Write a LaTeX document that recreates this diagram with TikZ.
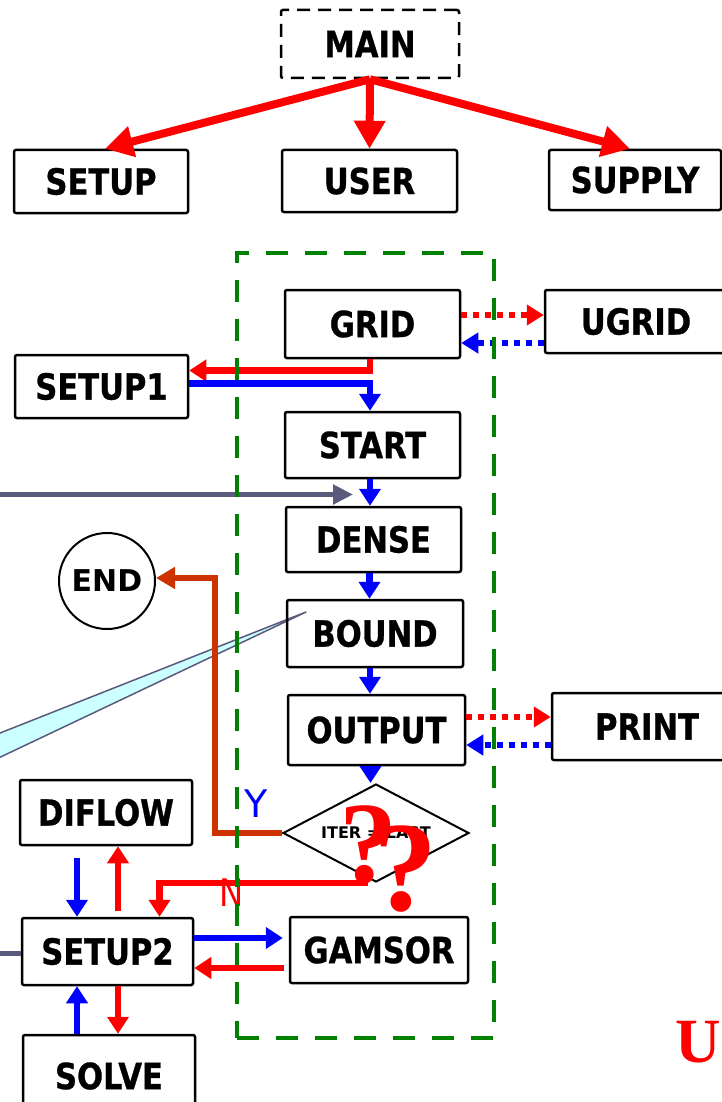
\documentclass[tikz,border=0pt]{standalone}
\usepackage{fontspec}
\usetikzlibrary{arrows.meta,shapes.geometric}
\newfontfamily\boxfontfam{DejaVu Sans}[FakeStretch=0.85,FakeBold=0.8]
\newfontfamily\plainsans{DejaVu Sans}
\newfontfamily\serifb{Liberation Serif}
\definecolor{myred}{RGB}{255,0,0}
\definecolor{myblue}{RGB}{0,0,255}
\definecolor{mygreen}{RGB}{0,128,0}
\definecolor{mybrown}{RGB}{204,51,0}
\definecolor{mygray}{RGB}{90,90,125}
\definecolor{mycyan}{RGB}{204,255,255}
\begin{document}
\begin{tikzpicture}[x=1pt,y=-1pt,
  box/.style={draw, line width=2.5pt, rounded corners=2pt, inner sep=0pt,
    font=\boxfontfam\bfseries\fontsize{36}{40}\selectfont},
  bigred/.style={draw=myred, line width=8pt, -{Triangle[width=30pt,length=28pt]}},
  conn/.style={line width=6.5pt, -{Triangle[width=21pt,length=17pt]}},
  dotconn/.style={line width=6pt, dash pattern=on 6pt off 6pt, -{Triangle[width=20pt,length=17pt]}},
  grayarrow/.style={draw=mygray, line width=5pt, -{Triangle[width=19pt,length=20pt]}},
  brownarrow/.style={draw=mybrown, line width=6pt, line join=miter, -{Triangle[width=21pt,length=19pt]}},
  frame/.style={draw=mygreen, line width=4.5pt, dash pattern=on 22pt off 17pt, inner sep=0pt},
  qmark/.style={text=myred, inner sep=0pt, anchor=base}
]
\useasboundingbox (0,0) rectangle (722,1102);
\clip (0,0) rectangle (722,1102);

% callout wedge
\coordinate (wtip) at (306,612);
\coordinate (wa) at (-10,737);
\coordinate (wb) at (-10,762);
\filldraw[fill=mycyan, draw=mygray, line width=1.5pt, line join=round] (wtip) -- (wa) -- (wb) -- cycle;

% labels Y / N
\node[font=\plainsans\fontsize{38}{40}\selectfont, text=myblue, inner sep=0pt] (ylab) at (256,804) {Y};
\node[font=\plainsans\fontsize{38}{40}\selectfont, text=myred, inner sep=0pt, xscale=0.85] (nlab) at (232,893) {N};

% boxes
\node[box, dash pattern=on 13pt off 8pt, minimum width=178pt, minimum height=68pt] (main) at (370,44) {MAIN};
\node[box, minimum width=174pt, minimum height=63pt] (setup) at (101,181.5) {SETUP};
\node[box, minimum width=175pt, minimum height=62pt] (user) at (369.5,181) {USER};
\node[box, minimum width=172pt, minimum height=60pt] (supply) at (635,180) {SUPPLY};

\node[box, minimum width=175pt, minimum height=68pt] (grid) at (372.5,324) {GRID};
\node[box, minimum width=182pt, minimum height=63pt] (ugrid) at (636,321.5) {UGRID};
\node[box, minimum width=173pt, minimum height=63pt] (setup1) at (101.5,386.5) {SETUP1};
\node[box, minimum width=175pt, minimum height=66pt] (start) at (372.5,445) {START};
\node[box, minimum width=175pt, minimum height=65pt] (dense) at (373.5,539.5) {DENSE};
\node[box, minimum width=176pt, minimum height=67pt] (bound) at (375,633.5) {BOUND};
\node[box, minimum width=177pt, minimum height=70pt] (output) at (376.5,730) {OUTPUT};
\node[box, minimum width=190pt, minimum height=67pt] (print) at (647,726.5) {PRINT};
\node[box, minimum width=172pt, minimum height=65pt] (diflow) at (106,812.5) {DIFLOW};
\node[box, minimum width=171pt, minimum height=67pt] (setup2) at (107.5,951.5) {SETUP2};
\node[box, minimum width=178pt, minimum height=66pt] (gamsor) at (379,950) {GAMSOR};
\node[box, minimum width=172pt, minimum height=82pt] (solve) at (109,1076) {SOLVE};

\node[draw, circle, line width=2pt, minimum size=96pt, inner sep=0pt,
  font=\plainsans\bfseries\fontsize{30}{32}\selectfont] (end) at (107,581) {END};
\node[diamond, draw, line width=2pt, minimum width=186pt, minimum height=98pt, aspect=1.9, inner sep=0pt,
  font=\plainsans\bfseries\fontsize{16}{18}\selectfont] (diam) at (376,833) {ITER = LAST};

% top arrows
\draw[bigred] (main.south) -- ([xshift=4pt]setup.north);
\draw[bigred] (main.south) -- (user.north);
\draw[bigred] (main.south) -- ([xshift=-5pt]supply.north);

% GRID <-> UGRID
\draw[dotconn, myred] ([yshift=9pt]grid.east) -- ([yshift=9pt]grid.east -| ugrid.west);
\draw[dotconn, myblue] ([yshift=-21.5pt]ugrid.west) -- ([yshift=-21.5pt]ugrid.west -| grid.east);

% GRID -> SETUP1 -> START
\draw[conn, myred] ([xshift=-2.5pt]grid.south) |- ([yshift=16pt]setup1.east);
\draw[conn, myblue] ([yshift=3pt]setup1.east) -| ([xshift=-2.5pt]start.north);

% main column
\draw[conn, myblue] ([xshift=-2.5pt]start.south) -- ([xshift=-2.5pt]start.south |- dense.north);
\draw[conn, myblue] ([xshift=-4pt]dense.south) -- ([xshift=-4pt]dense.south |- bound.north);
\draw[conn, myblue] ([xshift=-5pt]bound.south) -- ([xshift=-5pt]bound.south |- output.north);
\draw[conn, myblue] ([xshift=-6pt]output.south) -- ([xshift=-6pt]output.south |- diam.north);

% OUTPUT <-> PRINT
\draw[dotconn, myred] ([yshift=13pt]output.east) -- ([yshift=13pt]output.east -| print.west);
\draw[dotconn, myblue] ([yshift=-18.5pt]print.west) -- ([yshift=-18.5pt]print.west -| output.east);

% gray arrow from the left
\coordinate (gsrc) at (-5,494.5);
\coordinate (gtip) at (353,494.5);
\draw[grayarrow] (gsrc) -- (gtip);

% Y branch to END
\coordinate (bturn) at (215,578);
\draw[brownarrow] (diam.west) -| (bturn) -- ([yshift=3pt]end.east);

% N branch to SETUP2
\draw[conn, myred] ([xshift=-8pt]diam.south) -| ([xshift=52pt]setup2.north);

% SETUP2 cluster
\draw[conn, myblue, shorten <=12pt] ([xshift=-29pt]diflow.south) -- ([xshift=-29pt]diflow.south |- setup2.north);
\draw[conn, myred, shorten <=6pt] ([xshift=10.5pt]setup2.north) -- ([xshift=10.5pt]setup2.north |- diflow.south);
\draw[conn, myblue, shorten >=6pt] ([yshift=13.5pt]setup2.east) -- ([yshift=13.5pt]setup2.east -| gamsor.west);
\draw[conn, myred, shorten <=5pt] ([yshift=-18pt]gamsor.west) -- ([yshift=-18pt]gamsor.west -| setup2.east);
\draw[conn, myred] ([xshift=10.5pt]setup2.south) -- ([xshift=10.5pt]setup2.south |- solve.north);
\draw[conn, myblue] ([xshift=-32pt]solve.north) -- ([xshift=-32pt]solve.north |- setup2.south);

\coordinate (g2src) at (-5,953);
\draw[draw=mygray, line width=5pt] (g2src) -- (g2src -| setup2.west);

% green loop frame
\node[frame, minimum width=257pt, minimum height=785pt] (loop) at (365.5,645.5) {};

% question marks and U
\node[qmark, font=\serifb\bfseries\fontsize{116}{120}\selectfont] (q1) at (368,882) {?};
\node[qmark, font=\serifb\bfseries\fontsize{128}{132}\selectfont] (q2) at (405,910) {?};
\node[qmark, font=\serifb\bfseries\fontsize{63}{66}\selectfont] (ulab) at (698.5,1062) {U};
\end{tikzpicture}
\end{document}
